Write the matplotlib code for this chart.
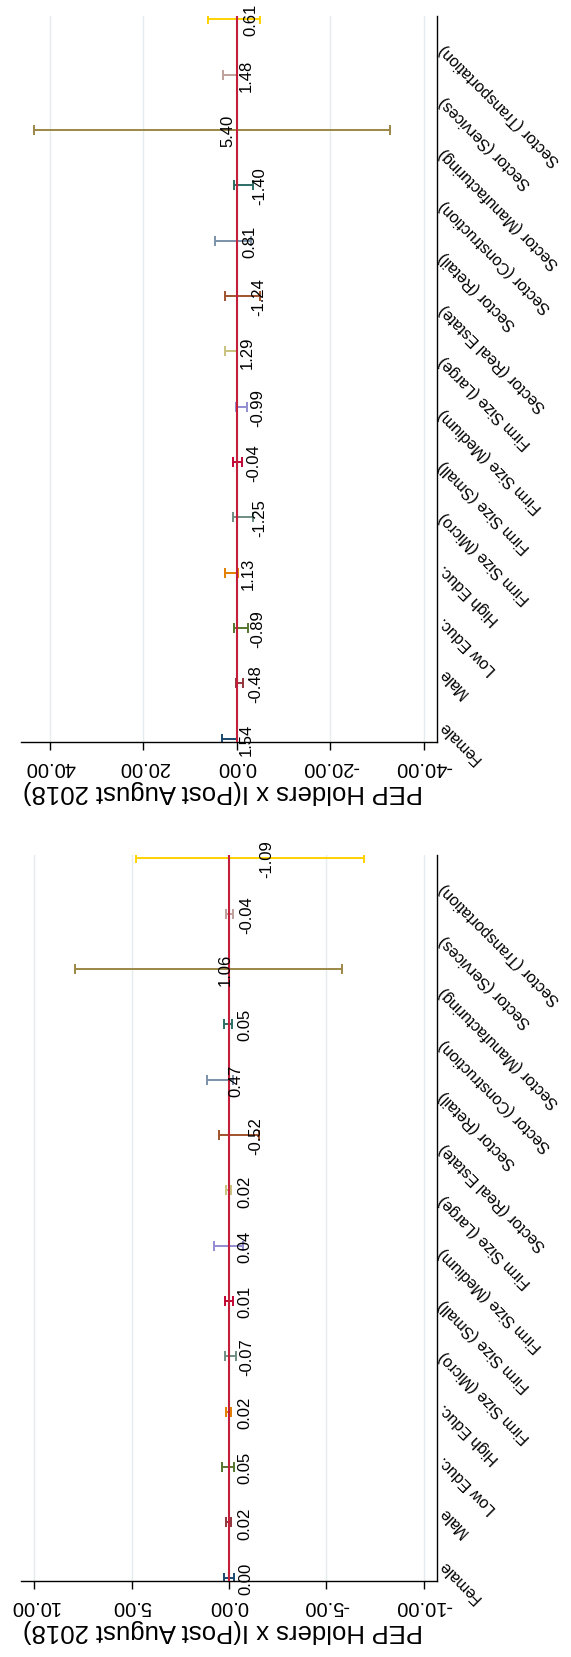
import matplotlib
matplotlib.use("Agg")
import matplotlib.pyplot as plt
from matplotlib.ticker import FormatStrFormatter

plt.rcParams["font.family"] = ["Liberation Sans", "DejaVu Sans"]

categories = [
    "Female", "Male", "Low Educ.", "High Educ.",
    "Firm Size (Micro)", "Firm Size (Small)", "Firm Size (Medium)", "Firm Size (Large)",
    "Sector (Real Estate)", "Sector (Retail)", "Sector (Construction)",
    "Sector (Manufacturing)", "Sector (Services)", "Sector (Transportation)",
]

# Stata s2color sequence, one colour per category
colors = [
    "#1a476f", "#90353b", "#55752f", "#e37e00", "#6e8e84", "#c10534", "#938dd2",
    "#cac27e", "#a0522d", "#7b92a8", "#2d6d66", "#9c8847", "#bfa19c", "#ffd200",
]

# upper panel (wide scale)
est_top = [1.54, -0.48, -0.89, 1.13, -1.25, -0.04, -0.99, 1.29, -1.24, 0.81, -1.40, 5.40, 1.48, 0.61]
lo_top = [-0.02, -1.20, -2.42, -0.25, -3.42, -1.00, -2.24, 0.02, -4.98, -3.10, -3.42, -32.7, 0.04, -4.93]
hi_top = [3.10, 0.24, 0.64, 2.51, 0.92, 0.92, 0.26, 2.56, 2.50, 4.72, 0.62, 43.5, 2.92, 6.15]
ticks_top = [-40, -20, 0, 20, 40]

# lower panel (narrow scale)
est_bot = [0.00, 0.02, 0.05, 0.02, -0.07, 0.01, 0.04, 0.02, -0.52, 0.47, 0.05, 1.06, -0.04, -1.09]
lo_bot = [-0.24, -0.10, -0.25, -0.10, -0.37, -0.19, -0.70, -0.10, -1.54, -0.20, -0.15, -5.80, -0.21, -6.94]
hi_bot = [0.24, 0.14, 0.35, 0.14, 0.23, 0.20, 0.78, 0.14, 0.50, 1.14, 0.25, 7.92, 0.13, 4.76]
ticks_bot = [-10, -5, 0, 5, 10]

axis_title = "PEP Holders x I(Post August 2018)"


def draw_panel(ax, est, lo, hi, ticks, xlim):
    ypos = list(range(len(categories)))
    for i in ypos:
        ax.errorbar(
            est[i], i,
            xerr=[[est[i] - lo[i]], [hi[i] - est[i]]],
            fmt="none", ecolor=colors[i], elinewidth=1.4,
            capsize=3.6, capthick=1.4, zorder=2,
        )
        ax.annotate(
            f"{est[i]:.2f}", xy=(est[i], i), xytext=(9, 0),
            textcoords="offset pixels", rotation=90,
            ha="left", va="center", fontsize=12, zorder=5,
        )
    ax.axvline(0, color="#c41e3a", lw=1.5, zorder=3)

    ax.set_xlim(*xlim)
    ax.set_ylim(-0.06, len(categories) - 1 + 0.06)
    ax.set_xticks(ticks)
    ax.xaxis.set_major_formatter(FormatStrFormatter("%.2f"))
    ax.tick_params(axis="x", length=6, width=1, pad=5, labelsize=14.5,
                   labelrotation=180)
    ax.grid(axis="x", color="#e4ecef", lw=1, zorder=0)
    ax.set_axisbelow(True)
    ax.set_xlabel(axis_title, fontsize=18.5, rotation=180, labelpad=2)
    ax.xaxis.label.set_x(0.485)

    # the angled category labels sit on a slightly tighter spacing than the marks
    ax.yaxis.set_ticks_position("right")
    ax.set_yticks([0.3 + 0.94 * i for i in ypos])
    ax.set_yticklabels(categories, rotation=135, rotation_mode="anchor",
                       ha="right", va="center", fontsize=11.5)
    ax.tick_params(axis="y", length=0, pad=3)

    for side in ("left", "top"):
        ax.spines[side].set_visible(False)
    for side in ("right", "bottom"):
        ax.spines[side].set_linewidth(1)


fig = plt.figure(figsize=(5.71, 16.58), dpi=100)
ax_top = fig.add_axes([21 / 571, 1 - 743 / 1658, 416 / 571, 726 / 1658])
ax_bot = fig.add_axes([21 / 571, 1 - 1582 / 1658, 416 / 571, 726 / 1658])

draw_panel(ax_top, est_top, lo_top, hi_top, ticks_top, (46.2, -42.8))
draw_panel(ax_bot, est_bot, lo_bot, hi_bot, ticks_bot, (10.67, -10.67))

fig.savefig("out.png", dpi=100)
